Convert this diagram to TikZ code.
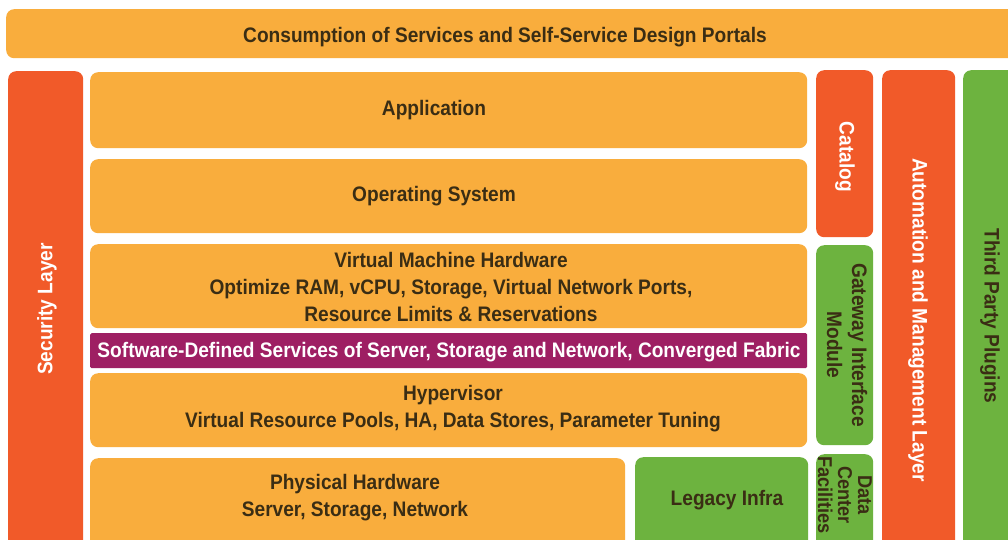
\documentclass[tikz,border=0pt]{standalone}
\usepackage{fontspec}
\setmainfont{Liberation Sans}[FakeStretch=0.91]
\definecolor{lorange}{HTML}{F9AD3D}
\definecolor{rorange}{HTML}{F15A29}
\definecolor{lgreen}{HTML}{6DB33F}
\definecolor{purp}{HTML}{9E1F63}
\definecolor{txt}{HTML}{3A2D14}
\begin{document}
\begin{tikzpicture}[x=1pt,y=-1pt,
  blk/.style={rounded corners=8pt, inner sep=0pt, anchor=north west},
  ob/.style={blk, fill=lorange},
  rb/.style={blk, fill=rorange},
  gb/.style={blk, fill=lgreen},
  tx/.style={text=txt, font=\bfseries\fontsize{21}{27}\selectfont, align=center, inner sep=0pt},
  wt/.style={text=white, font=\bfseries\fontsize{21}{27}\selectfont, align=center, inner sep=0pt}]
\useasboundingbox (0,0) rectangle (1008,539);
\clip (0,0) rectangle (1008,539);
\fill[white] (0,0) rectangle (1008,539);
% boxes
\node[ob, minimum width=1030pt, minimum height=49pt] (portal) at (6,9) {};
\node[rb, minimum width=75pt, minimum height=490pt] (sec) at (8,71) {};
\node[ob, minimum width=717pt, minimum height=76pt] (app) at (90,72) {};
\node[ob, minimum width=717pt, minimum height=74pt] (os) at (90,159) {};
\node[ob, minimum width=717pt, minimum height=84pt] (vmh) at (90,244) {};
\node[blk, rounded corners=1.5pt, fill=purp, minimum width=717pt, minimum height=35pt] (sds) at (90,333) {};
\node[ob, minimum width=717pt, minimum height=74pt] (hyp) at (90,373) {};
\node[ob, minimum width=535pt, minimum height=100pt] (phy) at (90,458) {};
\node[gb, minimum width=173pt, minimum height=100pt] (leg) at (635,457) {};
\node[rb, minimum width=57pt, minimum height=167pt] (cat) at (816,70) {};
\node[gb, minimum width=57pt, minimum height=200pt] (gim) at (816,245) {};
\node[gb, minimum width=57pt, minimum height=100pt] (dcf) at (816,454) {};
\node[rb, minimum width=73pt, minimum height=490pt] (aml) at (882,70) {};
\node[gb, minimum width=80pt, minimum height=490pt] (tpp) at (963,70) {};
% texts
\node[tx] (tportal) at (505,37) {Consumption of Services and Self-Service Design Portals};
\node[wt, rotate=90] (tsec) at (47,309) {Security Layer};
\node[tx] (tapp) at (434,110) {Application};
\node[tx] (tos) at (434,196) {Operating System};
\node[tx] (tvmh) at (451,287) {Virtual Machine Hardware\\Optimize RAM, vCPU, Storage, Virtual Network Ports,\\Resource Limits \& Reservations};
\node[wt] (tsds) at (449,352) {Software-Defined Services of Server, Storage and Network, Converged Fabric};
\node[tx] (thyp) at (453,409) {Hypervisor\\Virtual Resource Pools, HA, Data Stores, Parameter Tuning};
\node[tx] (tphy) at (355,498) {Physical Hardware\\Server, Storage, Network};
\node[tx] (tleg) at (727,500) {Legacy Infra};
\node[wt, rotate=-90] (tcat) at (845,157) {Catalog};
\node[tx, rotate=-90, font=\bfseries\fontsize{21}{25}\selectfont] (tgim) at (847,345) {Gateway Interface\\Module};
\node[tx, rotate=-90, font=\bfseries\fontsize{20}{20}\selectfont] (tdcf) at (845,495) {Data\\Center\\Facilities};
\node[wt, rotate=-90] (taml) at (918,320) {Automation and Management Layer};
\node[tx, rotate=-90] (ttpp) at (990,316) {Third Party Plugins};
\end{tikzpicture}
\end{document}
